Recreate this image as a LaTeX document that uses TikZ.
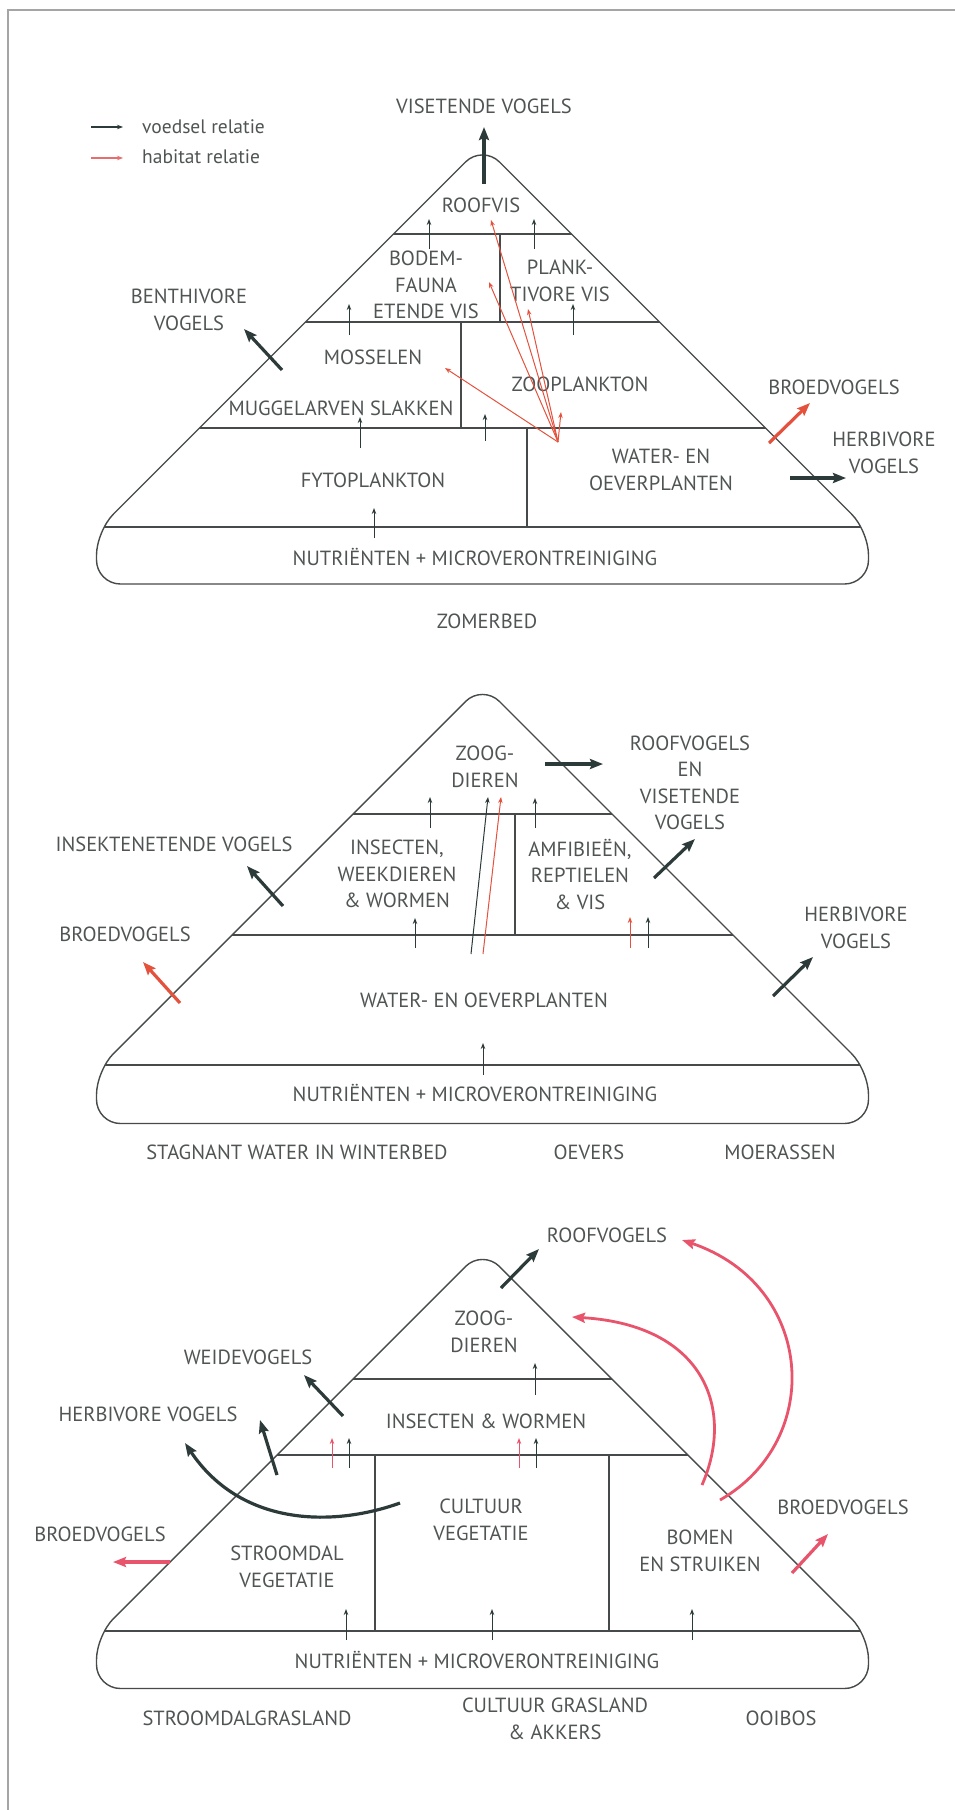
\documentclass[tikz,border=0pt]{standalone}
\usepackage{fontspec}
\setmainfont{PT Sans}
\usetikzlibrary{arrows.meta}
\definecolor{txt}{RGB}{80,84,84}
\definecolor{ln}{RGB}{70,74,74}
\definecolor{dk}{RGB}{45,58,58}
\definecolor{rda}{RGB}{228,82,62}
\definecolor{rdb}{RGB}{232,84,108}
\definecolor{rdl}{RGB}{230,110,110}
\definecolor{frm}{RGB}{165,165,165}
\tikzset{
  pline/.style={draw=ln, line width=1.4pt},
  lbl/.style={text=txt, font=\fontsize{20.5}{26.5}\selectfont, align=center, inner sep=0pt},
  smallarrow/.style={draw=#1, line width=1pt, -{Stealth[length=6pt,width=4.5pt]}},
  bigarrow/.style={draw=#1, line width=3.2pt, -{Stealth[length=13pt,width=10pt,inset=2pt]}},
}
\newcommand\pyroutline[1]{(482.5,{#1+439}) -- (96.5,{#1+439}) -- (96.5,{#1+386}) -- (482.5,#1) -- (868.5,{#1+386}) -- (868.5,{#1+439}) -- cycle}
\begin{document}
\begin{tikzpicture}[x=1pt,y=-1pt]
\useasboundingbox (0,0) rectangle (955,1810);
% frame
\draw[frm, line width=1.5pt] (8,1810) -- (8,10) -- (955,10);

% legend
\draw[smallarrow=dk, line width=1.4pt] (91,127) -- (123,127);
\draw[smallarrow=rdl, line width=1.4pt] (91,158) -- (123,158);
\node[lbl, anchor=west, font=\fontsize{19.5}{24}\selectfont] (legA) at (142,127) {voedsel relatie};
\node[lbl, anchor=west, font=\fontsize{19.5}{24}\selectfont] (legB) at (142,157) {habitat relatie};

% ================= PYRAMID 1 =================
\begin{scope}
\clip[rounded corners=24] \pyroutline{145};
\draw[pline] (0,234) -- (955,234) (0,322) -- (955,322) (0,428) -- (955,428) (0,527) -- (955,527);
\end{scope}
\draw[pline, rounded corners=24] \pyroutline{145};
\draw[pline] (500,234) -- (500,322) (461,322) -- (461,428) (527,428) -- (527,527);

\node[lbl] (p1vis) at (484,106) {VISETENDE VOGELS};
\node[lbl] (p1roof) at (481,205) {ROOFVIS};
\node[lbl] (p1bodem) at (426,285) {BODEM-\\FAUNA\\ETENDE VIS};
\node[lbl] (p1plank) at (560,281) {PLANK-\\TIVORE VIS};
\node[lbl] (p1mos) at (373,357) {MOSSELEN};
\node[lbl] (p1zoo) at (580,384) {ZOOPLANKTON};
\node[lbl] (p1mug) at (341,408) {MUGGELARVEN SLAKKEN};
\node[lbl] (p1fyto) at (373,480) {FYTOPLANKTON};
\node[lbl] (p1water) at (661,470) {WATER- EN\\OEVERPLANTEN};
\node[lbl] (p1nut) at (475,557) {NUTRIËNTEN + MICROVERONTREINIGING};
\node[lbl] (p1benth) at (189,310) {BENTHIVORE\\VOGELS};
\node[lbl] (p1broed) at (834,387) {BROEDVOGELS};
\node[lbl] (p1herb) at (884,453) {HERBIVORE\\VOGELS};
\node[lbl] (p1zomer) at (487,621) {ZOMERBED};

\draw[bigarrow=dk] (484,184) -- (484,127);
\draw[bigarrow=dk] (282,370) -- (244,329);
\draw[bigarrow=dk] (790,478) -- (846,478);
\draw[bigarrow=rda] (769,443) -- (810,403);
\foreach \x/\a/\b in {429/249/219, 534/249/219, 349/335/304, 573/335/304, 360/448/417, 485/441/414, 374/538/508}
  \draw[smallarrow=dk] (\x,\a) -- (\x,\b);
\coordinate (p1o) at (558,442);
\foreach \t in {(491,220),(489,282),(528,309),(561,412),(445,368)}
  \draw[smallarrow=rda] (p1o) -- \t;

% ================= PYRAMID 2 =================
\begin{scope}
\clip[rounded corners=24] \pyroutline{684.5};
\draw[pline] (0,814) -- (955,814) (0,935) -- (955,935) (0,1065) -- (955,1065);
\end{scope}
\draw[pline, rounded corners=24] \pyroutline{684.5};
\draw[pline] (515,814) -- (515,935);

\node[lbl] (p2zoog) at (485,767) {ZOOG-\\DIEREN};
\node[lbl] (p2ins) at (397,874) {INSECTEN,\\WEEKDIEREN\\\& WORMEN};
\node[lbl] (p2amf) at (580,874) {AMFIBIEËN,\\REPTIELEN\\\& VIS};
\node[lbl] (p2roof) at (690,783) {ROOFVOGELS\\EN\\VISETENDE\\VOGELS};
\node[lbl] (p2insek) at (174,844) {INSEKTENETENDE VOGELS};
\node[lbl] (p2broed) at (125,934) {BROEDVOGELS};
\node[lbl] (p2herb) at (856,928) {HERBIVORE\\VOGELS};
\node[lbl] (p2water) at (484,1000) {WATER- EN OEVERPLANTEN};
\node[lbl] (p2nut) at (475,1093) {NUTRIËNTEN + MICROVERONTREINIGING};
\node[lbl] (p2stag) at (297,1152) {STAGNANT WATER IN WINTERBED};
\node[lbl] (p2oev) at (589,1152) {OEVERS};
\node[lbl] (p2moer) at (780,1152) {MOERASSEN};

\draw[bigarrow=dk] (545,764) -- (603,764);
\draw[bigarrow=dk] (654,878) -- (695,839);
\draw[bigarrow=dk] (283,906) -- (247,866);
\draw[bigarrow=rda] (180,1003) -- (143,962);
\draw[bigarrow=dk] (773,996) -- (813,957);
\foreach \x/\a/\b in {430/828/797, 535/828/798, 415/948/918, 648/948/917, 483/1075/1043}
  \draw[smallarrow=dk] (\x,\a) -- (\x,\b);
\draw[smallarrow=rda] (630,948) -- (630,917);
\draw[smallarrow=dk] (471,954) -- (488,797);
\draw[smallarrow=rda] (483,954) -- (501,797);

% ================= PYRAMID 3 =================
\begin{scope}
\clip[rounded corners=24] \pyroutline{1249.5};
\draw[pline] (0,1379) -- (955,1379) (0,1455) -- (955,1455) (0,1631) -- (955,1631);
\end{scope}
\draw[pline, rounded corners=24] \pyroutline{1249.5};
\draw[pline] (375,1455) -- (375,1631) (609,1455) -- (609,1631);

\node[lbl] (p3zoog) at (484,1332) {ZOOG-\\DIEREN};
\node[lbl] (p3ins) at (486,1421) {INSECTEN \& WORMEN};
\node[lbl] (p3cult) at (481,1520) {CULTUUR\\VEGETATIE};
\node[lbl] (p3stroom) at (287,1567) {STROOMDAL\\VEGETATIE};
\node[lbl] (p3bomen) at (700,1551) {BOMEN\\EN STRUIKEN};
\node[lbl] (p3nut) at (477,1660) {NUTRIËNTEN + MICROVERONTREINIGING};
\node[lbl] (p3sgl) at (247,1718) {STROOMDALGRASLAND};
\node[lbl] (p3cgl) at (555,1719) {CULTUUR GRASLAND\\\& AKKERS};
\node[lbl] (p3ooi) at (781,1718) {OOIBOS};
\node[lbl] (p3roof) at (607,1235) {ROOFVOGELS};
\node[lbl] (p3weide) at (248,1357) {WEIDEVOGELS};
\node[lbl] (p3herb) at (148,1414) {HERBIVORE VOGELS};
\node[lbl] (p3broedL) at (100,1534) {BROEDVOGELS};
\node[lbl] (p3broedR) at (843,1507) {BROEDVOGELS};

\draw[bigarrow=dk] (501,1288) -- (539,1249);
\draw[bigarrow=dk] (343,1416) -- (304,1375);
\draw[bigarrow=dk] (277,1475) -- (260,1420);
\draw[bigarrow=dk] (400,1503) .. controls (330,1528) and (240,1525) .. (185,1443);
\draw[bigarrow=rdb, line width=2.8pt] (702,1485) .. controls (735,1410) and (705,1325) .. (572,1317);
\draw[bigarrow=rdb, line width=2.8pt] (720,1500) .. controls (825,1440) and (815,1285) .. (682,1240);
\draw[bigarrow=rdb] (170,1562) -- (113,1562);
\draw[bigarrow=rdb] (792,1573) -- (828,1534);
\foreach \x/\a/\b in {535/1395/1363, 349/1468/1438, 536/1468/1438, 346/1640/1609, 492/1640/1609, 692/1640/1609}
  \draw[smallarrow=dk] (\x,\a) -- (\x,\b);
\draw[smallarrow=rdb] (332,1468) -- (332,1438);
\draw[smallarrow=rdb] (519,1468) -- (519,1438);
\end{tikzpicture}
\end{document}
